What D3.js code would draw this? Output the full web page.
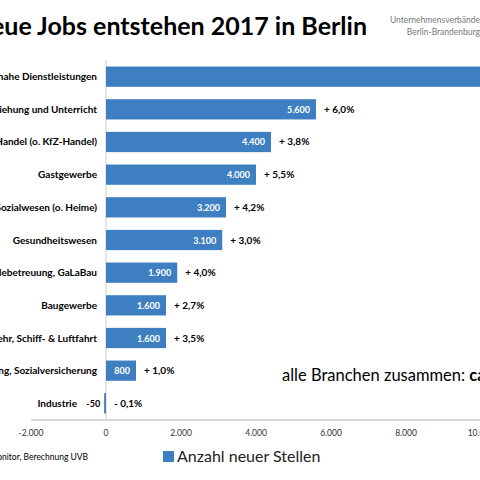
<!DOCTYPE html>
<html><head><meta charset="utf-8">
<script src="https://cdn.jsdelivr.net/npm/d3@7"></script>
<style>body{margin:0;background:#fff}svg{font-family:Lato,"Open Sans",Arial,sans-serif}</style>
</head><body><div id="chart"></div>
<script>
const categories = ["Unternehmensnahe Dienstleistungen", "Erziehung und Unterricht", "Handel (o. KfZ-Handel)", "Gastgewerbe",
  "Sozialwesen (o. Heime)", "Gesundheitswesen", "Gebäudebetreuung, GaLaBau", "Baugewerbe",
  "Verkehr, Schiff- & Luftfahrt", "Öffentl. Verwaltung, Sozialversicherung", "Industrie"];
const values = [11000, 5600, 4400, 4000, 3200, 3100, 1900, 1600, 1600, 800, -50];
const changes = ["+ 7,0%", "+ 6,0%", "+ 3,8%", "+ 5,5%", "+ 4,2%", "+ 3,0%", "+ 4,0%", "+ 2,7%", "+ 3,5%", "+ 1,0%", "- 0,1%"];
const ticks = [-2000, 0, 2000, 4000, 6000, 8000, 10000];

const svg = d3.select("#chart").append("svg").attr("width", 480).attr("height", 480);
const fmt = d3.formatLocale({decimal: ",", thousands: ".", grouping: [3], currency: ["", ""], minus: "-"}).format(",");

const x = d3.scaleLinear().domain([-2000, 10000]).range([31, 481]);
const y = d3.scaleBand().domain(categories).range([60, 420]).paddingInner(0.38).paddingOuter(0.2);

svg.append("text").attr("x", 367).attr("y", 35).attr("text-anchor", "end")
  .attr("font-size", 25).attr("font-weight", "bold").text("Rund 43.000 neue Jobs entstehen 2017 in Berlin");
svg.append("text").attr("x", 480).attr("y", 23).attr("text-anchor", "end").attr("font-size", 8.5)
  .attr("fill", "#777").text("Unternehmensverbände");
svg.append("text").attr("x", 480).attr("y", 35).attr("text-anchor", "end").attr("font-size", 8.5)
  .attr("fill", "#777").text("Berlin-Brandenburg");

// zero line + axis line
svg.append("line").attr("x1", x(0)).attr("x2", x(0)).attr("y1", 60).attr("y2", 420).attr("stroke", "#ccc");
svg.append("line").attr("x1", x(-2000)).attr("x2", 480).attr("y1", 420).attr("y2", 420).attr("stroke", "#ccc").attr("stroke-width", 1.5);

svg.selectAll(".tick").data(ticks).join("text").attr("x", d => x(d)).attr("y", 436)
  .attr("text-anchor", "middle").attr("font-size", 8.5).attr("fill", "#333").text(d => fmt(d));

const rows = categories.map((c, i) => ({c, v: values[i], p: changes[i]}));
const g = svg.selectAll(".row").data(rows).join("g");
g.append("rect").attr("x", d => x(Math.min(0, d.v))).attr("y", d => y(d.c))
  .attr("width", d => Math.abs(x(d.v) - x(0))).attr("height", y.bandwidth()).attr("fill", "#3e7fc1");
g.append("text").attr("x", d => d.v < 0 ? 77 : 97).attr("y", d => y(d.c) + y.bandwidth() / 2 + 3.5).attr("text-anchor", "end")
  .attr("font-size", 10).attr("font-weight", "bold").text(d => d.c);
g.append("text").attr("x", d => d.v > 0 ? x(d.v) - 6 : x(d.v) - 4).attr("y", d => y(d.c) + y.bandwidth() / 2 + 3.5)
  .attr("text-anchor", "end").attr("font-size", 9).attr("font-weight", "bold")
  .attr("fill", d => d.v > 0 ? "#fff" : "#000").text(d => fmt(d.v));
g.append("text").attr("x", d => Math.max(x(d.v), x(0)) + 8).attr("y", d => y(d.c) + y.bandwidth() / 2 + 3.5)
  .attr("font-size", 10).attr("font-weight", "bold").text(d => d.p);

const total = svg.append("text").attr("x", 282).attr("y", 381).attr("font-size", 16.5);
total.append("tspan").text("alle Branchen zusammen: ");
total.append("tspan").attr("font-weight", "bold").text("ca. 43.000");

svg.append("text").attr("x", 88).attr("y", 460).attr("text-anchor", "end").attr("font-size", 8.5)
  .text("Quelle: Arbeitsmarktmonitor, Berechnung UVB");
svg.append("rect").attr("x", 163).attr("y", 451).attr("width", 11).attr("height", 11).attr("fill", "#3e7fc1");
svg.append("text").attr("x", 177).attr("y", 462).attr("font-size", 16).attr("fill", "#222").text("Anzahl neuer Stellen");
</script></body></html>
